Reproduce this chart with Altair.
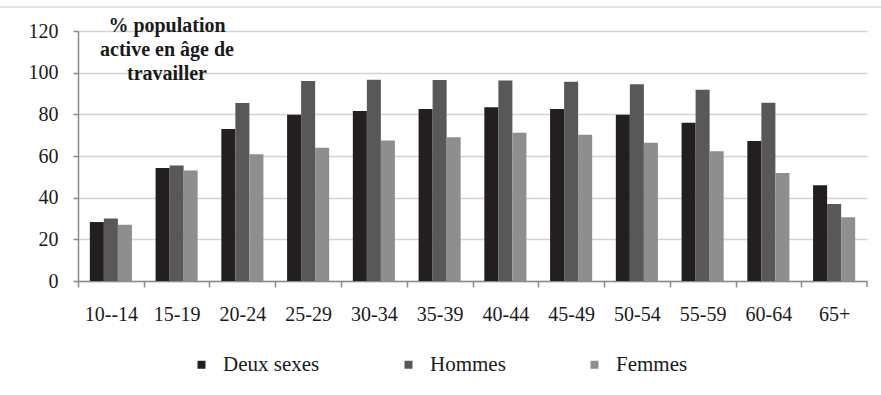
import altair as alt
import pandas as pd

# Taux d'activité par groupe d'âge (%)
ages = ["10--14", "15-19", "20-24", "25-29", "30-34", "35-39",
        "40-44", "45-49", "50-54", "55-59", "60-64", "65+"]
deux_sexes = [28.3, 54.2, 73.0, 79.8, 81.6, 82.6, 83.4, 82.6, 79.8, 76.0, 67.2, 46.0]
hommes = [30.0, 55.5, 85.4, 96.0, 96.6, 96.5, 96.2, 95.6, 94.4, 91.8, 85.6, 37.0]
femmes = [27.0, 53.0, 60.8, 64.0, 67.4, 69.0, 71.2, 70.2, 66.4, 62.3, 51.8, 30.6]

series = ["Deux sexes", "Hommes", "Femmes"]
colors = ["#231f20", "#58585a", "#8e8e8e"]
y_ticks = [0, 20, 40, 60, 80, 100, 120]
note = ["% population\nactive en âge de\ntravailler"]

rows = []
for name, vals in zip(series, [deux_sexes, hommes, femmes]):
    for age, v in zip(ages, vals):
        rows.append({"age": age, "serie": name, "valeur": v})
df = pd.DataFrame(rows)

W, H = 789, 250
FONT = "Liberation Serif"
AXIS_GREY = "#8a8a8a"
STEP = W / len(ages)

bars = alt.Chart(df).mark_bar().encode(
    x=alt.X(
        "age:N", sort=ages, title=None,
        scale=alt.Scale(paddingInner=0.36, paddingOuter=0.18),
        axis=alt.Axis(
            labelAngle=0, labelFont=FONT, labelFontSize=20, labelColor="#1a1a1a",
            labelPadding=17, tickSize=6, tickOffset=-STEP / 2, labelOffset=STEP / 2,
            tickColor=AXIS_GREY, tickWidth=1.5, domainColor=AXIS_GREY,
            domainWidth=1.5, grid=False,
        ),
    ),
    xOffset=alt.XOffset("serie:N", sort=series,
                        scale=alt.Scale(paddingInner=0, paddingOuter=0)),
    y=alt.Y(
        "valeur:Q", title=None,
        scale=alt.Scale(domain=[0, 120], nice=False),
        axis=alt.Axis(
            values=y_ticks, labelFont=FONT, labelFontSize=20, labelColor="#1a1a1a",
            labelPadding=15, tickSize=5, tickColor=AXIS_GREY, tickWidth=1.5,
            domainColor=AXIS_GREY, domainWidth=1.5,
            gridColor="#d3d3d3", gridWidth=1.4,
        ),
    ),
    color=alt.Color(
        "serie:N", sort=series,
        scale=alt.Scale(domain=series, range=colors),
        legend=alt.Legend(
            title=None, orient="none", legendX=113, legendY=323,
            direction="horizontal", symbolType="square", symbolSize=64,
            symbolStrokeWidth=0, labelFont=FONT, labelFontSize=21,
            labelColor="#1a1a1a", labelOffset=11, columnPadding=78,
        ),
    ),
)

# closing tick at the right end of the category axis
end_tick = alt.Chart(pd.DataFrame({"k": [0]})).mark_rule(
    color=AXIS_GREY, strokeWidth=1.5
).encode(x=alt.value(W), y=alt.value(H), y2=alt.value(H + 6))

# thin frame line along the top of the figure
top_line = alt.Chart(pd.DataFrame({"k": [0]})).mark_rule(
    color="#dcdcdc", strokeWidth=1.5
).encode(x=alt.value(-78), x2=alt.value(881 - 78), y=alt.value(-24))

label = alt.Chart(pd.DataFrame({"t": note})).mark_text(
    font=FONT, fontSize=20, fontWeight="bold", color="#1a1a1a",
    align="center", baseline="alphabetic", lineBreak="\n", lineHeight=24,
).encode(x=alt.value(89), y=alt.value(1), text="t:N")

chart = alt.layer(top_line, bars, end_tick, label).properties(
    width=W, height=H,
    autosize=alt.AutoSizeParams(type="none"),
    padding={"left": 78, "top": 31, "right": 14, "bottom": 114},
    background="white",
).configure_view(stroke=None)

chart.save("out.html", embed_options={"renderer": "svg", "actions": False})
